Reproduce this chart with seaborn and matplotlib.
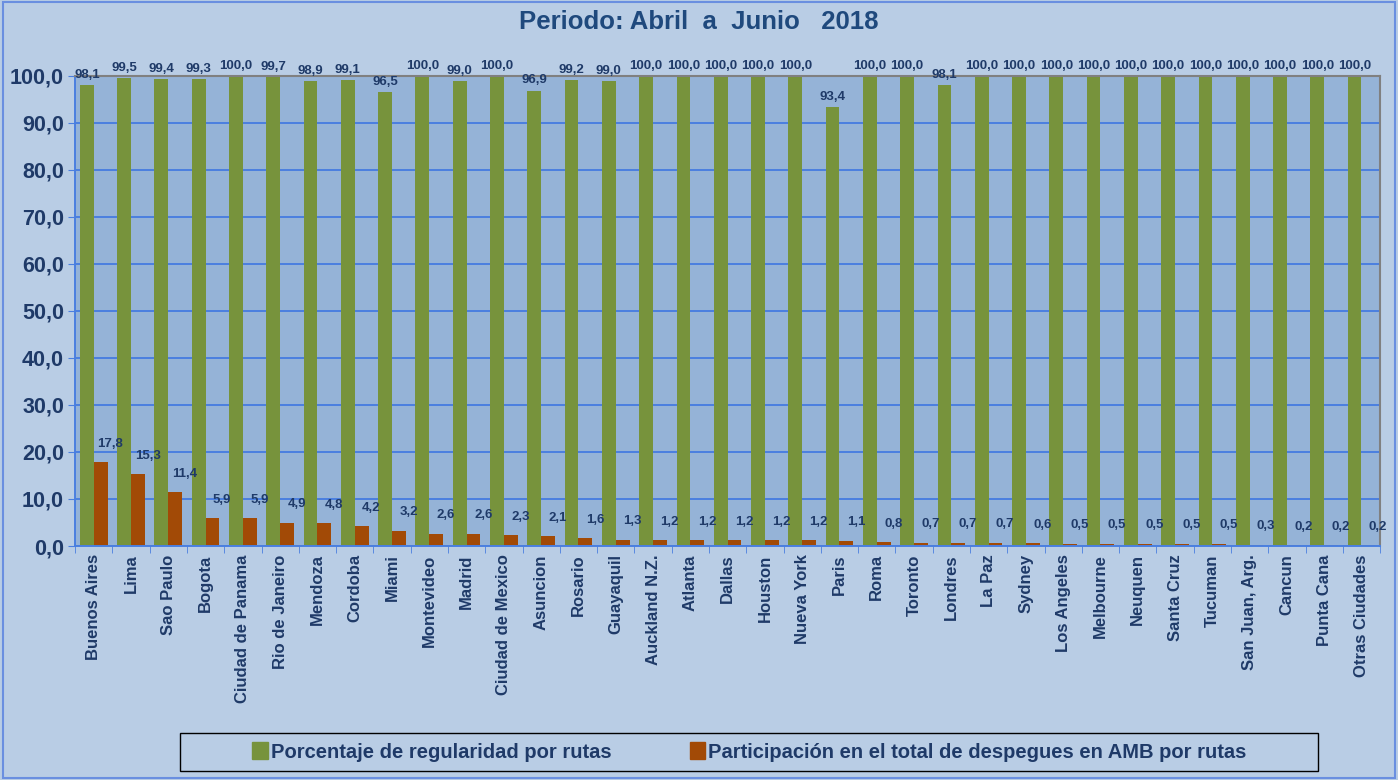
import numpy as np
import pandas as pd
import matplotlib.pyplot as plt
import matplotlib.patches as mpatches
from matplotlib.ticker import FuncFormatter, FixedLocator
import seaborn as sns

ciudades = ['Buenos Aires', 'Lima', 'Sao Paulo', 'Bogota', 'Ciudad de Panama',
            'Rio de Janeiro', 'Mendoza', 'Cordoba', 'Miami', 'Montevideo',
            'Madrid', 'Ciudad de Mexico', 'Asuncion', 'Rosario', 'Guayaquil',
            'Auckland N.Z.', 'Atlanta', 'Dallas', 'Houston', 'Nueva York',
            'Paris', 'Roma', 'Toronto', 'Londres', 'La Paz', 'Sydney',
            'Los Angeles', 'Melbourne', 'Neuquen', 'Santa Cruz', 'Tucuman',
            'San Juan, Arg.', 'Cancun', 'Punta Cana', 'Otras Ciudades']
regularidad = [98.1, 99.5, 99.4, 99.3, 100.0, 99.7, 98.9, 99.1, 96.5, 100.0,
               99.0, 100.0, 96.9, 99.2, 99.0, 100.0, 100.0, 100.0, 100.0, 100.0,
               93.4, 100.0, 100.0, 98.1, 100.0, 100.0, 100.0, 100.0, 100.0, 100.0,
               100.0, 100.0, 100.0, 100.0, 100.0]
participacion = [17.8, 15.3, 11.4, 5.9, 5.9, 4.9, 4.8, 4.2, 3.2, 2.6,
                 2.6, 2.3, 2.1, 1.6, 1.3, 1.2, 1.2, 1.2, 1.2, 1.2,
                 1.1, 0.8, 0.7, 0.7, 0.7, 0.6, 0.5, 0.5, 0.5, 0.5,
                 0.5, 0.3, 0.2, 0.2, 0.2]
serie_reg = 'Porcentaje de regularidad por rutas'
serie_par = 'Participación en el total de despegues en AMB por rutas'

df = pd.concat([
    pd.DataFrame({'ciudad': ciudades, 'valor': regularidad, 'serie': serie_reg}),
    pd.DataFrame({'ciudad': ciudades, 'valor': participacion, 'serie': serie_par}),
])

verde = '#77933C'
naranja = '#A24A06'
azul_txt = '#1F3A68'
fondo = '#B9CDE5'
area = '#95B3D7'
fuente = ['Liberation Sans', 'DejaVu Sans']

sns.set_style('white')
plt.rcParams['font.family'] = fuente

fig = plt.figure(figsize=(13.98, 7.8), dpi=100, facecolor=fondo)
ax = fig.add_axes([0.0537, 0.30, 0.9335, 0.6026])
ax.set_facecolor(area)

sns.barplot(data=df, x='ciudad', y='valor', hue='serie', order=ciudades,
            hue_order=[serie_reg, serie_par], palette=[verde, naranja],
            width=0.74, saturation=1, linewidth=0, legend=False, ax=ax)

ax.set_ylim(0, 100)
ax.set_xlim(-0.5, len(ciudades) - 0.5)
ax.yaxis.set_major_locator(FixedLocator(np.arange(0, 101, 10)))
ax.yaxis.set_major_formatter(FuncFormatter(lambda v, p: f'{v:.1f}'.replace('.', ',')))
ax.grid(axis='y', color='#4A7FE0', linewidth=1.4)
ax.set_axisbelow(True)
ax.set_xlabel('')
ax.set_ylabel('')

for lbl in ax.get_yticklabels():
    lbl.set_fontweight('bold')
    lbl.set_fontsize(15.5)
    lbl.set_color(azul_txt)
ax.tick_params(axis='y', length=5, color='#4A7FE0', pad=3, direction='out', left=True)

ax.set_xticks(range(len(ciudades)))
ax.set_xticklabels(ciudades, rotation=90, fontsize=12, fontweight='bold', color=azul_txt)
ax.tick_params(axis='x', which='major', length=0, pad=6)
ax.set_xticks(np.arange(-0.5, len(ciudades), 1), minor=True)
ax.tick_params(axis='x', which='minor', length=5, color='#4A7FE0', direction='out', bottom=True)

for s in ['left', 'bottom']:
    ax.spines[s].set_color('#4A7FE0')
    ax.spines[s].set_linewidth(1.4)
for s in ['top', 'right']:
    ax.spines[s].set_color('#808080')
    ax.spines[s].set_linewidth(1.5)

# etiquetas de datos
for cont, vals, dx, dy in [(ax.containers[0], regularidad, 0, 3),
                           (ax.containers[1], participacion, 7, 9)]:
    for bar, v in zip(cont, vals):
        ax.annotate(f'{v:.1f}'.replace('.', ','),
                    (bar.get_x() + bar.get_width() / 2, bar.get_height()),
                    xytext=(dx, dy), textcoords='offset points',
                    ha='center', va='bottom', fontsize=9.5, fontweight='bold',
                    color=azul_txt, annotation_clip=False)

fig.text(0.5, 0.972, 'Periodo: Abril  a  Junio   2018', ha='center', va='center',
         fontsize=18.5, fontweight='bold', color='#1F497D')

# leyenda con caja propia
fig.patches.append(mpatches.Rectangle((180 / 1398, 1 - 771 / 780), 1138 / 1398, 38 / 780,
                                      transform=fig.transFigure, facecolor=fondo,
                                      edgecolor='black', linewidth=1.0))
handles = [mpatches.Patch(color=verde, label=serie_reg),
           mpatches.Patch(color=naranja, label=serie_par)]
leg = fig.legend(handles=handles, loc='center', bbox_to_anchor=(0.536, 0.036),
                 ncol=2, frameon=False, handlelength=0.75, handleheight=0.9,
                 handletextpad=0.15, columnspacing=3.9,
                 prop={'weight': 'bold', 'size': 14.5})
for t in leg.get_texts():
    t.set_color(azul_txt)

fig.patches.append(mpatches.Rectangle((0.002, 0.002), 0.996, 0.995, transform=fig.transFigure,
                                      fill=False, edgecolor='#6A8FE0', linewidth=1.5))

fig.savefig('out.png', dpi=100, facecolor=fondo)
